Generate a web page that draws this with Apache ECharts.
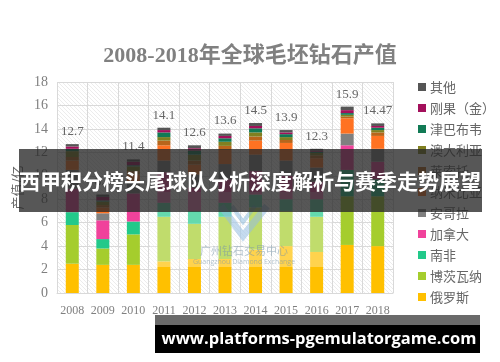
<!DOCTYPE html>
<html><head><meta charset="utf-8">
<script src="https://cdn.jsdelivr.net/npm/echarts@6/dist/echarts.min.js"></script>
<style>html,body{margin:0;padding:0;background:#fff}#c{width:500px;height:362px}</style>
</head><body><div id="c"></div>
<script>
var years = ['2008','2009','2010','2011','2012','2013','2014','2015','2016','2017','2018'];
var totals = [12.7, 8.4, 11.4, 14.1, 12.6, 13.6, 14.5, 13.9, 12.3, 15.9, 14.47];
var russia = [2.5, 2.4, 2.4, 2.7, 2.9, 2.9, 3.7, 4.0, 3.5, 4.1, 4.0];
var botswana = [3.3, 1.4, 2.6, 3.8, 3.0, 3.6, 3.6, 3.0, 3.0, 4.15, 4.25];
var southAfrica = [1.1, 0.8, 1.1, 1.2, 1.1, 1.2, 1.1, 1.0, 1.5, 2.25, 1.45];
var canada = [2.0, 1.6, 2.4, 2.6, 2.0, 2.0, 2.0, 2.0, 1.5, 2.1, 1.5];
var angola = [1.6, 0.6, 0.9, 1.0, 1.1, 1.3, 1.4, 1.3, 1.2, 1.0, 1.1];
var namibia = [0.8, 0.5, 0.7, 1.3, 0.85, 1.2, 1.2, 1.5, 0.8, 1.3, 1.1];
var lesotho = [0.3, 0.2, 0.3, 0.4, 0.35, 0.35, 0.35, 0.25, 0.25, 0.15, 0.3];
var australia = [0.5, 0.3, 0.4, 0.3, 0.5, 0.35, 0.35, 0.25, 0.2, 0.15, 0.2];
var zimbabwe = [0.2, 0.1, 0.1, 0.4, 0.35, 0.3, 0.35, 0.25, 0.1, 0.15, 0.2];
var drc = [0.2, 0.3, 0.3, 0.2, 0.2, 0.2, 0.2, 0.15, 0.1, 0.25, 0.15];
var others = [0.2, 0.2, 0.2, 0.2, 0.25, 0.2, 0.25, 0.2, 0.15, 0.3, 0.22];
var yTicks = [0, 2, 4, 6, 8, 10, 12, 14, 16, 18];

var seriesDefs = [
  ['俄罗斯', russia, '#FFC000'],
  ['博茨瓦纳', botswana, '#A5CD2D'],
  ['南非', southAfrica, '#22C98A'],
  ['加拿大', canada, '#F0429B'],
  ['安哥拉', angola, '#808080'],
  ['纳米比亚', namibia, '#FF7222'],
  ['莱索托', lesotho, '#B8651B'],
  ['澳大利亚', australia, '#808020'],
  ['津巴布韦', zimbabwe, '#117A55'],
  ['刚果（金）', drc, '#A3105B'],
  ['其他', others, '#555555']
];

var hatch = document.createElement('canvas');
hatch.width = 4; hatch.height = 4;
var hc = hatch.getContext('2d');
hc.fillStyle = '#ffffff'; hc.fillRect(0,0,4,4);
hc.strokeStyle = '#e4e4e4'; hc.lineWidth = 0.7;
hc.beginPath(); hc.moveTo(-1,-1); hc.lineTo(5,5); hc.stroke();
hc.beginPath(); hc.moveTo(-1,3); hc.lineTo(1,5); hc.stroke();
hc.beginPath(); hc.moveTo(3,-1); hc.lineTo(5,1); hc.stroke();

var serif = '"Liberation Serif", "Noto Sans CJK SC", serif';
var series = seriesDefs.map(function (d, i) {
  var s = {
    name: d[0], type: 'bar', stack: 'total', data: d[1], barWidth: 13,
    itemStyle: { color: d[2] }, emphasis: { disabled: true }
  };
  if (i === seriesDefs.length - 1) {
    s.label = {
      show: true, position: 'top', distance: 6,
      color: '#666', fontFamily: serif, fontSize: 13,
      formatter: function (p) { return String(totals[p.dataIndex]); }
    };
  }
  return s;
});

var chart = echarts.init(document.getElementById('c'), null, { renderer: 'canvas' });
chart.setOption({
  animation: false,
  backgroundColor: '#ffffff',
  title: {
    text: '2008-2018年全球毛坯钻石产值', left: 'center', top: 40,
    textStyle: { fontFamily: serif, fontSize: 22, fontWeight: 'bold', color: '#808080' }
  },
  grid: {
    left: 57, right: 107, top: 82, bottom: 69, show: true, borderWidth: 0,
    backgroundColor: { image: hatch, repeat: 'repeat' }
  },
  legend: {
    orient: 'vertical', left: 413, top: 75, itemWidth: 8, itemHeight: 8, itemGap: 7,
    icon: 'rect', selectedMode: false,
    data: seriesDefs.map(function (d) { return d[0]; }).reverse(),
    textStyle: { color: '#666', fontSize: 13, lineHeight: 14, fontFamily: '"Noto Sans CJK SC", sans-serif', padding: [0,0,0,-1] }
  },
  xAxis: {
    type: 'category', data: years,
    axisLine: { lineStyle: { color: '#d9d9d9' } },
    axisTick: { show: false },
    axisLabel: { color: '#7f7f7f', fontFamily: serif, fontSize: 12, margin: 12, interval: 0 },
    splitLine: { show: true, lineStyle: { color: '#d9d9d9' } }
  },
  yAxis: {
    type: 'value', min: yTicks[0], max: yTicks[yTicks.length - 1], interval: 2,
    name: '产值/亿', nameLocation: 'middle', nameRotate: 90, nameGap: 31,
    nameTextStyle: { color: '#666', fontSize: 13, fontFamily: '"Noto Sans CJK SC", sans-serif' },
    axisLine: { show: false }, axisTick: { show: false },
    axisLabel: { color: '#7f7f7f', fontFamily: serif, fontSize: 14, margin: 9 },
    splitLine: { lineStyle: { color: '#d9d9d9' } }
  },
  series: series,
  graphic: [
    { type: 'rect', z: 50, shape: { x: 150, y: 192, width: 182, height: 75 }, style: { fill: 'rgba(255,255,255,0.3)' } },
    { type: 'polyline', z: 51, shape: { points: [[221,206],[243,236],[267,206]] }, style: { stroke: 'rgba(150,190,225,0.55)', lineWidth: 7, fill: null } },
    { type: 'polyline', z: 51, shape: { points: [[232,206],[243,222],[255,206]] }, style: { stroke: 'rgba(120,175,215,0.45)', lineWidth: 4, fill: null } },
    { type: 'text', z: 51, style: { x: 244, y: 251, text: '广州钻石交易中心', fill: 'rgba(120,150,170,0.55)', font: '11px "Noto Sans CJK SC"', textAlign: 'center', textVerticalAlign: 'middle' } },
    { type: 'text', z: 51, style: { x: 244, y: 262, text: 'Guangzhou Diamond Exchange', fill: 'rgba(120,150,170,0.55)', font: '7px "Open Sans"', textAlign: 'center', textVerticalAlign: 'middle' } },
    { type: 'rect', z: 100, shape: { x: 19, y: 149, width: 463, height: 63 }, style: { fill: 'rgba(40,40,40,0.78)' } },
    { type: 'text', z: 101, style: { x: 250, y: 181, text: '西甲积分榜头尾球队分析深度解析与赛季走势展望', fill: '#ffffff', font: 'bold 21px "Noto Sans CJK SC"', textAlign: 'center', textVerticalAlign: 'middle' } },
    { type: 'rect', z: 100, shape: { x: 155, y: 315, width: 325, height: 10 }, style: { fill: '#6a6a6a' } },
    { type: 'rect', z: 100, shape: { x: 155, y: 325, width: 325, height: 28 }, style: { fill: '#000000' } },
    { type: 'text', z: 101, style: { x: 319, y: 339, text: 'www.platforms-pgemulatorgame.com', fill: '#ffffff', font: 'bold 16.5px "Open Sans"', textAlign: 'center', textVerticalAlign: 'middle' } }
  ]
});
</script></body></html>
